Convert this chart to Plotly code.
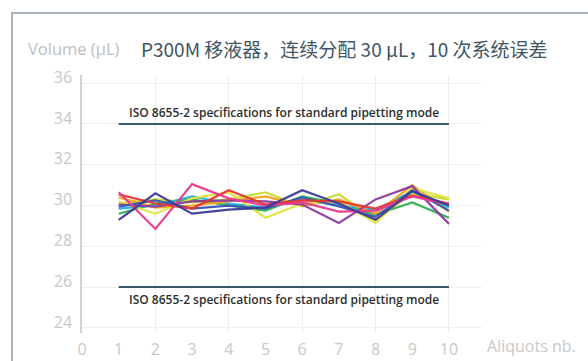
import plotly.graph_objects as go

# Aliquot index and measured volume per dispensed aliquot (µL), one list per run
aliquots = [1, 2, 3, 4, 5, 6, 7, 8, 9, 10]

run_magenta = [30.65, 28.85, 31.05, 30.35, 30.00, 30.15, 29.70, 29.75, 30.45, 30.05]
run_red     = [30.55, 30.10, 29.85, 30.75, 30.05, 30.25, 30.20, 29.85, 30.50, 30.10]
run_orange  = [30.40, 29.90, 30.00, 30.20, 30.45, 30.00, 30.30, 29.60, 31.00, 29.70]
run_yellow  = [30.20, 29.60, 30.35, 30.65, 29.40, 30.10, 30.20, 29.15, 30.85, 30.35]
run_lime    = [30.10, 30.30, 30.15, 30.30, 30.65, 29.95, 30.55, 29.30, 30.60, 30.30]
run_green   = [29.60, 30.10, 30.30, 30.00, 29.75, 30.45, 30.10, 29.55, 30.15, 29.40]
run_cyan    = [29.85, 30.00, 30.45, 30.10, 29.90, 30.30, 30.00, 29.80, 30.70, 29.90]
run_blue    = [29.95, 30.25, 29.85, 30.00, 29.85, 30.40, 29.95, 29.45, 30.75, 29.75]
run_indigo  = [29.30, 30.60, 29.60, 29.80, 29.90, 30.75, 30.10, 29.30, 30.70, 30.00]
run_purple  = [30.05, 29.95, 30.20, 30.25, 30.20, 30.05, 29.15, 30.30, 30.95, 29.10]

runs = [
    (run_lime, "#c9dc2a"),
    (run_green, "#2fb04e"),
    (run_cyan, "#27aee3"),
    (run_orange, "#f6a21e"),
    (run_yellow, "#e2e23a"),
    (run_purple, "#8d3c9e"),
    (run_blue, "#3a56b0"),
    (run_red, "#e8362e"),
    (run_magenta, "#e83a8e"),
    (run_indigo, "#3b3a9c"),
]

# ISO 8655-2 limits for a 30 µL nominal volume
spec_x = [1, 10]
spec_upper = 34
spec_lower = 26
spec_label = "ISO 8655-2 specifications for standard pipetting mode"

y_ticks = [24, 26, 28, 30, 32, 34, 36]
x_ticks = [0, 1, 2, 3, 4, 5, 6, 7, 8, 9, 10]
x_grid = [0, 2, 4, 6, 8, 10]

title_text = "P300M 移液器，连续分配 30 µL，10 次系统误差"
y_title = "Volume (µL)"
x_title = "Aliquots nb."

W, H = 588, 361
L, R, T, B = 82, 106, 75, 28
pw, ph = W - L - R, H - T - B


def px_x(p):
    return (p - L) / pw


def px_y(p):
    return (H - B - p) / ph


fig = go.Figure()

for vals, col in runs:
    fig.add_trace(go.Scatter(
        x=aliquots, y=vals, mode="lines",
        line=dict(color=col, width=2.2), opacity=0.95,
        hoverinfo="skip", showlegend=False,
    ))

for lim in (spec_upper, spec_lower):
    fig.add_trace(go.Scatter(
        x=spec_x, y=[lim, lim], mode="lines", xaxis="x2",
        line=dict(color="#3b5869", width=2),
        hoverinfo="skip", showlegend=False,
    ))

tick_font = dict(family="Open Sans, sans-serif", size=16, color="#c8c8c8")

fig.update_layout(
    width=W, height=H,
    margin=dict(l=L, r=R, t=T, b=B, autoexpand=False),
    paper_bgcolor="white", plot_bgcolor="white",
    xaxis=dict(
        range=[0, 10.9], tickmode="array", tickvals=x_grid, automargin=False,
        showticklabels=False, showgrid=True, gridcolor="#eeeeee", gridwidth=1,
        zeroline=False, showline=False, ticks="",
    ),
    xaxis2=dict(
        overlaying="x", matches="x", side="bottom", automargin=False,
        tickmode="array", tickvals=x_ticks, ticktext=[str(v) for v in x_ticks],
        showgrid=False, zeroline=False, showline=False, ticks="",
        ticklabelstandoff=5, tickfont=tick_font,
    ),
    yaxis=dict(
        range=[23.75, 36.4], tickmode="array", tickvals=y_ticks, automargin=False,
        showgrid=True, gridcolor="#eeeeee", gridwidth=1,
        zeroline=False, showline=True, linecolor="#d2d2d2", linewidth=1.5,
        ticks="", ticklabelshift=-6, ticklabelstandoff=5,
        tickfont=tick_font,
    ),
)

# ISO labels above the upper limit and below the lower limit
label_font = dict(family="Open Sans, sans-serif", size=12, color="#2e2e2e", weight=600)
fig.add_annotation(x=5.5, y=spec_upper, xref="x", yref="y", text=spec_label,
                   showarrow=False, yanchor="bottom", yshift=1, font=label_font)
fig.add_annotation(x=5.5, y=spec_lower, xref="x", yref="y", text=spec_label,
                   showarrow=False, yanchor="top", yshift=-2, font=label_font)

# axis captions and heading
fig.add_annotation(x=px_x(26), y=px_y(48), xref="paper", yref="paper",
                   text=y_title, showarrow=False, xanchor="left", yanchor="middle",
                   font=dict(family="Liberation Sans Narrow, Open Sans, sans-serif",
                             size=16.5, color="#bdbdbd"))
fig.add_annotation(x=px_x(139), y=px_y(48), xref="paper", yref="paper",
                   text=title_text, showarrow=False, xanchor="left", yanchor="middle",
                   font=dict(family="Noto Sans CJK SC, sans-serif",
                             size=19, color="#3f5666"))
fig.add_annotation(x=px_x(485), y=px_y(346), xref="paper", yref="paper",
                   text=x_title, showarrow=False, xanchor="left", yanchor="middle",
                   font=dict(family="Open Sans, sans-serif", size=16, color="#c8c8c8"))

# panel frame along the top and left edges
frame = dict(color="#a7b2be", width=2)
fig.add_shape(type="line", xref="paper", yref="paper",
              x0=px_x(11), x1=px_x(W + 5), y0=px_y(13), y1=px_y(13), line=frame)
fig.add_shape(type="line", xref="paper", yref="paper",
              x0=px_x(12), x1=px_x(12), y0=px_y(13), y1=px_y(H + 5), line=frame)

fig.write_html("out.html")
